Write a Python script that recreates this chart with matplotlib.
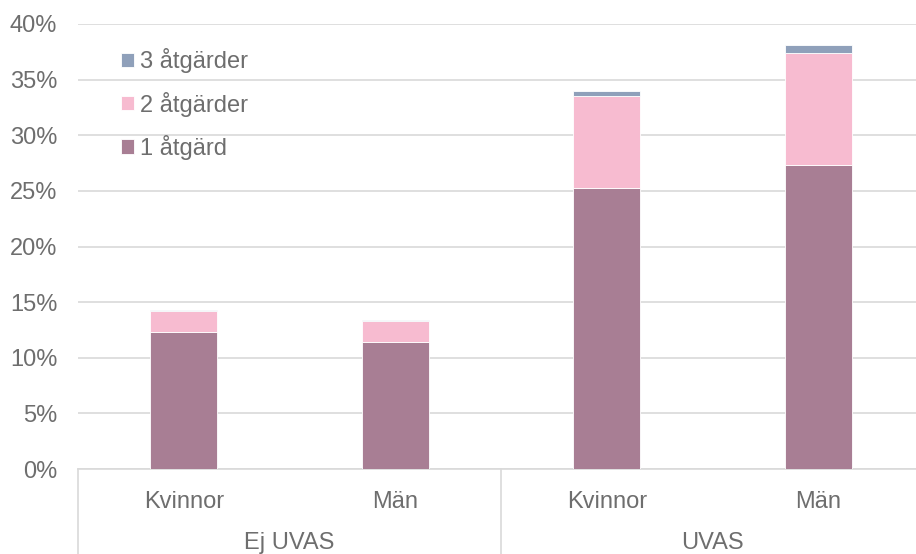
import matplotlib
matplotlib.use('Agg')
import matplotlib.pyplot as plt
import matplotlib.ticker as ticker
import matplotlib.transforms as mtransforms
import numpy as np

# ── Data (percent) ─────────────────────────────────────────────────────────
categories = ["Kvinnor", "Män", "Kvinnor", "Män"]
groups = ["Ej UVAS", "UVAS"]
one_measure = [12.3, 11.4, 25.3, 27.3]
two_measures = [1.9, 1.9, 8.2, 10.1]
three_measures = [0.1, 0.1, 0.5, 0.7]
series_labels = ["1 åtgärd", "2 åtgärder", "3 åtgärder"]

COLORS = ["#A87E94", "#F7BBD0", "#8FA0BA"]
TEXT = "#6E6E6E"
GRID = "#D9D9D9"
FS = 17

plt.rcParams['font.family'] = ['Liberation Sans', 'DejaVu Sans']

fig = plt.figure(figsize=(9.16, 5.54), dpi=100)
ax = fig.add_axes([78 / 916, 85 / 554, 846 / 916, 445 / 554])

x = np.arange(len(categories)) + 0.5
w = 0.315
b1 = np.array(one_measure)
b2 = b1 + np.array(two_measures)
bars = []
for vals, bottom, col, lab in zip([one_measure, two_measures, three_measures],
                                  [0, b1, b2], COLORS, series_labels):
    bars.append(ax.bar(x, vals, w, bottom=bottom, color=col, label=lab,
                       edgecolor="white", linewidth=0.6, zorder=3))

ax.set_xlim(0, len(categories))
ax.set_ylim(0, 40)
ax.yaxis.set_major_locator(ticker.MultipleLocator(5))
ax.yaxis.set_major_formatter(ticker.FuncFormatter(lambda v, p: f"{v:.0f}%"))
ax.grid(axis='y', color=GRID, linewidth=1.2, zorder=0)
ax.tick_params(axis='y', length=0, labelsize=FS, labelcolor=TEXT, pad=15)
ax.set_xticks([])
for s in ["top", "right", "left"]:
    ax.spines[s].set_visible(False)
ax.spines["bottom"].set_color(GRID)
ax.spines["bottom"].set_linewidth(1.2)

# two-level category axis
trans = mtransforms.blended_transform_factory(ax.transData, fig.transFigure)
for xi, cat in zip(x, categories):
    ax.text(xi, 1 - 508 / 554, cat, transform=trans, ha='center',
            va='baseline', fontsize=FS, color=TEXT)
for gi, grp in enumerate(groups):
    ax.text(gi * 2 + 1, 1 - 549 / 554, grp, transform=trans, ha='center',
            va='baseline', fontsize=FS, color=TEXT)
for xs in [0, 2, 4]:
    fig.add_artist(plt.Line2D([xs, xs], [0, 85 / 554], transform=trans,
                              color=GRID, linewidth=1.2))

handles = [bars[2], bars[1], bars[0]]
leg = ax.legend(handles, [series_labels[2], series_labels[1], series_labels[0]],
                loc='upper left', bbox_to_anchor=(0.04, 0.967), frameon=False,
                fontsize=FS, handlelength=0.55, handleheight=0.55,
                handletextpad=0.25, labelspacing=0.78, borderaxespad=0)
for t in leg.get_texts():
    t.set_color(TEXT)

plt.savefig("out.png", dpi=100)
plt.close()
